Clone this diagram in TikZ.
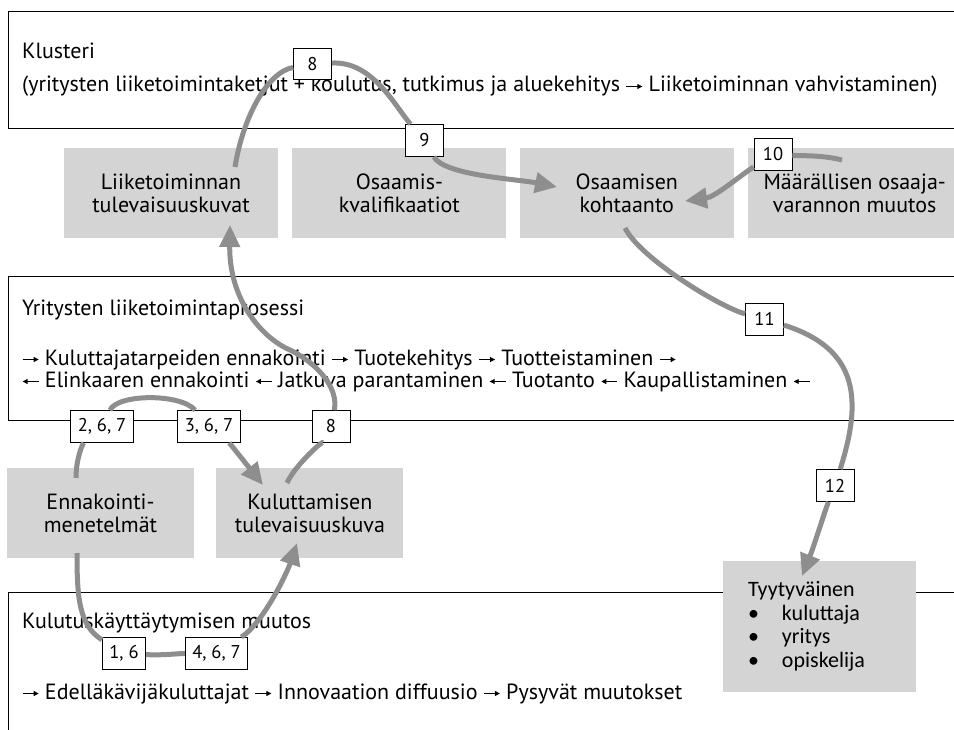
\documentclass[tikz,border=0pt]{standalone}
\usepackage{fontspec}
\setmainfont{PT Sans}
\newfontfamily\tyytyfont{Carlito}
\usetikzlibrary{arrows.meta,positioning,calc}
\definecolor{flowgray}{HTML}{8E8E8E}
\definecolor{boxgray}{HTML}{D4D4D4}
\newcommand{\mainsz}{\fontsize{22}{23}\selectfont}
\newcommand{\numsz}{\fontsize{18.5}{22}\selectfont}
\newcommand{\oik}{\tikz[baseline=-0.5ex]\draw[line width=0.9pt,-{Triangle[length=5pt,width=5pt]}] (0pt,0pt)--(16pt,0pt);}
\newcommand{\vas}{\tikz[baseline=-0.5ex]\draw[line width=0.9pt,{Triangle[length=5pt,width=5pt]}-] (0pt,0pt)--(16pt,0pt);}
\tikzset{flowbox/.style={fill=boxgray,minimum width=214pt,minimum height=90pt,align=center,font=\mainsz},flownum/.style={draw=black,line width=0.8pt,fill=white,minimum width=38pt,minimum height=32pt,inner xsep=7pt,font=\numsz},flowarr/.style={draw=flowgray,line width=5pt,-{Triangle[length=22pt,width=20pt]}},flowframe/.style={draw=black,line width=1pt},flowtext/.style={anchor=base west,inner sep=0pt,font=\mainsz}}

\begin{document}
\begin{tikzpicture}[x=1pt,y=-1pt]
\useasboundingbox (0,0) rectangle (954,730);
\draw[flowframe] (954,12) -| (8,129) -- (954,129);
\draw[flowframe] (954,277) -| (8,420) -- (954,420);
\draw[flowframe] (954,592) -| (8,730);
\node[flowtext] (klusT) at (22,59) {Klusteri};
\node[flowtext] (klusS) at (22,92) {(yritysten liiketoimintaketjut + koulutus, tutkimus ja aluekehitys \oik{} Liiketoiminnan vahvistaminen)};
\node[flowtext] (yritT) at (22,316) {Yritysten liiketoimintaprosessi};
\node[flowtext] (yritS1) at (22,365) {\oik{} Kuluttajatarpeiden ennakointi \oik{} Tuotekehitys \oik{} Tuotteistaminen \oik};
\node[flowtext] (yritS2) at (22,387) {\vas{} Elinkaaren ennakointi \vas{} Jatkuva parantaminen \vas{} Tuotanto \vas{} Kaupallistaminen \vas};
\node[flowtext] (kulT) at (22,628) {Kulutuskäyttäytymisen muutos};
\node[flowtext] (kulS) at (22,699) {\oik{} Edelläkävijäkuluttajat \oik{} Innovaation diffuusio \oik{} Pysyvät muutokset};
\node[flowbox] (liike) at (171,193) {Liiketoiminnan\\tulevaisuuskuvat};
\node[flowbox,right=14pt of liike] (kval) {Osaamis-\\kvalifikaatiot};
\node[flowbox,right=13pt of kval] (kohta) {Osaamisen\\kohtaanto};
\node[flowbox,right=14pt of kohta,minimum width=213pt] (maar) {Määrällisen osaaja-\\varannon muutos};
\node[flowbox,minimum width=187pt] (ennak) at (100.5,513) {Ennakointi-\\menetelmät};
\node[flowbox,minimum width=187pt,right=22pt of ennak] (kulut) {Kuluttamisen\\tulevaisuuskuva};
\node[flowbox,minimum width=193pt,minimum height=131pt,text width=143pt,inner xsep=25pt,align=left,font=\tyytyfont\fontsize{22}{23.5}\selectfont] (tyyty) at (819.5,626.5) {Tyytyväinen\\\makebox[34pt][l]{\textbullet}kuluttaja\\\makebox[34pt][l]{\textbullet}yritys\\\makebox[34pt][l]{\textbullet}opiskelija};
\coordinate (liikeA) at (235,167);
\coordinate (liikeB) at (230,225);
\coordinate (kohtaL) at (557,187);
\coordinate (kohtaR) at (685,201);
\coordinate (kohtaB) at (625,228);
\coordinate (maarA) at (842,160);
\coordinate (tyytyA) at (802,576);
\coordinate (ennakA) at (76,478);
\coordinate (ennakB) at (77,553);
\coordinate (kulutA) at (287,483);
\coordinate (kulutB) at (263,485);
\coordinate (kulutC) at (297,543);
\coordinate (bendB) at (290,350);
\node[flownum,minimum height=31pt] (n8a) at (312.5,64) {8};
\node[flownum] (n9) at (424.5,140.5) {9};
\node[flownum] (n10) at (773,154) {10};
\node[flownum] (n11) at (764.5,319) {11};
\node[flownum] (n12) at (835,485.5) {12};
\node[flownum] (n267) at (102,426.5) {2, 6, 7};
\node[flownum] (n367) at (209,426.5) {3, 6, 7};
\node[flownum] (n8b) at (331,426.5) {8};
\node[flownum] (n16) at (124,653.5) {1, 6};
\node[flownum] (n467) at (216.5,653.5) {4, 6, 7};
\draw[flowarr] (liikeA) .. controls +(8,-50) and +(-45,8) .. (n8a) .. controls +(60,-3) and +(-30,-35) .. (n9) .. controls +(20,35) and +(-40,-8) .. (kohtaL);
\draw[flowarr] (kulutA) .. controls +(8,-18) and +(-6,12) .. (n8b) .. controls +(8,-40) and +(25,12) .. (bendB) .. controls +(-28,-12) and +(-1,75) .. (liikeB);
\draw[flowarr] (ennakA) .. controls +(0,-18) and +(-20,18) .. (n267) .. controls +(16,-33) and +(-28,-33) .. (n367) .. controls +(21,17) and +(-12,-15) .. (kulutB);
\draw[flowarr] (ennakB) .. controls +(0,45) and +(-45,-28) .. (n16) .. controls +(40,2) and +(-40,0) .. (n467) .. controls +(47,-31) and +(-10,30) .. (kulutC);
\draw[flowarr] (maarA) .. controls +(-20,-5) and +(30,2) .. (n10) .. controls +(-36,24) and +(30,-4) .. (kohtaR);
\draw[flowarr] (kohtaB) .. controls +(15,30) and +(-45,-12) .. (n11) .. controls +(95,30) and +(27,-85) .. (n12) .. controls +(-10,25) and +(12,-30) .. (tyytyA);
\end{tikzpicture}
\end{document}
